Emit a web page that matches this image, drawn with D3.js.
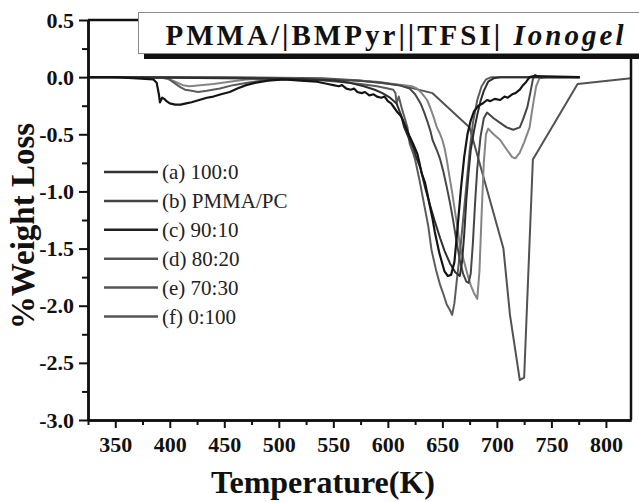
<!DOCTYPE html>
<html>
<head>
<meta charset="utf-8">
<script src="https://cdn.jsdelivr.net/npm/d3@7"></script>
<style>
  html, body { margin: 0; padding: 0; background: #fff; }
  svg { display: block; }
</style>
</head>
<body>
<svg id="chart" width="639" height="502"></svg>
<script>
// DTG curves of PMMA/[BMPyr][TFSI] ionogels: [temperature (K), % weight loss]
const seriesNames = ["(a) 100:0", "(b) PMMA/PC", "(c) 90:10", "(d) 80:20", "(e) 70:30", "(f) 0:100"];

const curveA = [[325,0],[360,0],[400,-0.005],[450,-0.01],[500,-0.015],[530,-0.02],[550,-0.03],[565,-0.05],[578,-0.08],[588,-0.11],[595,-0.14],[602,-0.18],[608,-0.23],[612,-0.33],[615,-0.44],[619,-0.53],[623,-0.61],[626,-0.70],[630,-0.80],[634,-0.96],[639,-1.13],[643,-1.26],[648,-1.41],[652,-1.52],[657,-1.63],[662,-1.71],[666,-1.74],[668,-1.62],[670,-1.38],[672,-1.07],[674,-0.84],[676,-0.64],[679,-0.47],[682,-0.33],[685,-0.21],[688,-0.12],[692,-0.04],[697,-0.01],[703,0],[740,0],[776,0]];

const curveB = [[325,0],[400,0],[450,-0.005],[500,-0.01],[540,-0.02],[570,-0.03],[595,-0.05],[610,-0.07],[620,-0.10],[625,-0.15],[630,-0.23],[633,-0.30],[636,-0.38],[639,-0.47],[641,-0.55],[645,-0.64],[648,-0.72],[651,-0.83],[654,-0.96],[657,-1.10],[660,-1.26],[663,-1.44],[666,-1.60],[669,-1.72],[672,-1.79],[674,-1.80],[676,-1.72],[678,-1.45],[680,-1.10],[682,-0.80],[685,-0.52],[688,-0.36],[691,-0.31],[697,-0.36],[703,-0.40],[709,-0.44],[715,-0.46],[721,-0.44],[724,-0.37],[728,-0.26],[731,-0.12],[733,-0.02],[735,0.02],[738,0.0],[776,0.0]];

const curveC = [[325,0],[350,0],[370,-0.01],[385,-0.02],[388,-0.05],[390,-0.15],[391,-0.22],[393,-0.18],[395,-0.19],[397,-0.21],[400,-0.23],[405,-0.24],[410,-0.24],[415,-0.23],[420,-0.22],[427,-0.20],[434,-0.18],[440,-0.17],[447,-0.15],[455,-0.13],[462,-0.10],[470,-0.07],[478,-0.05],[490,-0.03],[505,-0.02],[520,-0.03],[535,-0.04],[545,-0.06],[550,-0.07],[555,-0.08],[558,-0.07],[562,-0.10],[566,-0.11],[569,-0.10],[572,-0.13],[576,-0.14],[579,-0.13],[583,-0.16],[587,-0.15],[590,-0.17],[594,-0.18],[597,-0.17],[600,-0.21],[603,-0.23],[606,-0.27],[609,-0.31],[612,-0.34],[614,-0.38],[617,-0.45],[620,-0.52],[623,-0.58],[627,-0.67],[629,-0.75],[631,-0.84],[634,-0.92],[636,-1.01],[639,-1.15],[641,-1.24],[643,-1.35],[645,-1.44],[647,-1.53],[649,-1.60],[652,-1.70],[655,-1.74],[658,-1.73],[661,-1.62],[663,-1.42],[665,-1.20],[667,-0.98],[670,-0.70],[673,-0.50],[676,-0.38],[679,-0.30],[683,-0.25],[687,-0.23],[691,-0.20],[694,-0.21],[698,-0.19],[703,-0.20],[707,-0.17],[710,-0.18],[714,-0.15],[717,-0.14],[721,-0.11],[724,-0.07],[727,-0.04],[730,0.0],[734,0.01],[776,0.0]];

const curveD = [[325,0],[380,0],[398,-0.01],[404,-0.05],[410,-0.09],[414,-0.11],[420,-0.12],[426,-0.13],[434,-0.12],[446,-0.10],[458,-0.07],[471,-0.05],[485,-0.03],[500,-0.02],[530,-0.02],[555,-0.04],[575,-0.06],[590,-0.08],[600,-0.10],[605,-0.11],[607,-0.14],[608,-0.23],[610,-0.17],[613,-0.28],[618,-0.44],[620,-0.58],[623,-0.66],[625,-0.72],[629,-0.90],[633,-1.10],[637,-1.30],[640,-1.51],[644,-1.68],[648,-1.82],[651,-1.90],[654,-1.99],[657,-2.04],[659,-2.08],[661,-1.98],[663,-1.80],[666,-1.55],[669,-1.25],[672,-0.95],[675,-0.65],[678,-0.40],[682,-0.20],[686,-0.08],[690,-0.02],[695,0],[776,0]];

const curveE = [[325,0],[390,0],[400,-0.02],[405,-0.04],[412,-0.07],[418,-0.08],[428,-0.07],[440,-0.06],[455,-0.04],[470,-0.02],[500,-0.01],[540,-0.02],[570,-0.03],[590,-0.04],[605,-0.06],[615,-0.07],[622,-0.08],[627,-0.10],[631,-0.14],[636,-0.20],[639,-0.27],[642,-0.35],[645,-0.44],[648,-0.50],[650,-0.55],[652,-0.62],[654,-0.72],[656,-0.84],[659,-1.01],[662,-1.20],[664,-1.32],[666,-1.47],[669,-1.58],[672,-1.69],[674,-1.76],[676,-1.82],[679,-1.89],[682,-1.94],[684,-1.70],[686,-1.20],[688,-0.75],[690,-0.50],[692,-0.45],[697,-0.50],[703,-0.55],[708,-0.62],[714,-0.70],[717,-0.71],[721,-0.66],[725,-0.57],[730,-0.44],[733,-0.25],[736,-0.08],[739,-0.01],[745,0],[776,0]];

const curveF = [[325,0],[450,0],[540,-0.01],[575,-0.03],[611,-0.07],[641,-0.14],[675,-0.44],[706,-1.50],[712,-2.08],[721,-2.65],[725,-2.63],[733,-0.72],[774,-0.06],[823,-0.01]];

const xTicks = [350, 400, 450, 500, 550, 600, 650, 700, 750, 800];
const xMinorTicks = [325, 375, 425, 475, 525, 575, 625, 675, 725, 775];
const yTicks = [0.5, 0.0, -0.5, -1.0, -1.5, -2.0, -2.5, -3.0];
const yMinorTicks = [0.25, -0.25, -0.75, -1.25, -1.75, -2.25, -2.75];

const titleMain = "PMMA/|BMPyr||TFSI| ";
const titleItalic = "Ionogel";
const xLabel = "Temperature(K)";
const yLabel = "%Weight Loss";

// ---- drawing ----
const curves = [curveA, curveB, curveC, curveD, curveE, curveF];
const lineColors = ["#2e2e2e", "#464646", "#141414", "#5c5c5c", "#858585", "#525252"];
const legendColors = ["#333", "#444", "#222", "#555", "#555", "#555"];
const drawOrder = [5, 4, 3, 1, 0, 2];

const serif = "'Liberation Serif', 'Times New Roman', serif";
const svg = d3.select("#chart");
const plot = { left: 88, right: 631, top: 20, bottom: 420 };

const x = d3.scaleLinear().domain([325, 823]).range([plot.left, plot.right]);
const y = d3.scaleLinear().domain([-3.0, 0.5]).range([plot.bottom, plot.top]);

svg.append("defs").append("clipPath").attr("id", "plotclip")
  .append("rect").attr("x", plot.left).attr("y", plot.top)
  .attr("width", plot.right - plot.left).attr("height", plot.bottom - plot.top);

const line = d3.line().x(d => x(d[0])).y(d => y(d[1])).curve(d3.curveLinear);

const gCurves = svg.append("g").attr("clip-path", "url(#plotclip)");
drawOrder.forEach(i => {
  gCurves.append("path")
    .datum(curves[i])
    .attr("d", line)
    .attr("fill", "none")
    .attr("stroke", lineColors[i])
    .attr("stroke-width", i === 2 ? 2.2 : 2)
    .attr("stroke-linejoin", "round");
});

// frame (top and right edges)
svg.append("line").attr("x1", plot.left).attr("x2", plot.right)
  .attr("y1", plot.top).attr("y2", plot.top)
  .attr("stroke", "#111").attr("stroke-width", 2.5);
svg.append("line").attr("x1", plot.right).attr("x2", plot.right)
  .attr("y1", plot.top).attr("y2", plot.bottom)
  .attr("stroke", "#111").attr("stroke-width", 2.5);

// axes
const fmt = d => d.toFixed(1);
const yAxis = svg.append("g").attr("transform", `translate(${plot.left},0)`)
  .call(d3.axisLeft(y).tickValues(yTicks).tickFormat(fmt).tickSize(9).tickSizeOuter(0).tickPadding(5));
const yMinor = svg.append("g").attr("transform", `translate(${plot.left},0)`)
  .call(d3.axisLeft(y).tickValues(yMinorTicks).tickFormat("").tickSize(6).tickSizeOuter(0));
const xAxis = svg.append("g").attr("transform", `translate(0,${plot.bottom})`)
  .call(d3.axisBottom(x).tickValues(xTicks).tickFormat(d3.format("d")).tickSize(8).tickSizeOuter(0).tickPadding(8));
const xMinor = svg.append("g").attr("transform", `translate(0,${plot.bottom})`)
  .call(d3.axisBottom(x).tickValues(xMinorTicks).tickFormat("").tickSize(5).tickSizeOuter(0));

[yAxis, yMinor, xAxis, xMinor].forEach(g => {
  g.attr("font-family", null);
  g.select(".domain").attr("stroke", "#111").attr("stroke-width", 2.5);
  g.selectAll(".tick line").attr("stroke", "#111").attr("stroke-width", 2);
  g.selectAll(".tick text")
    .attr("fill", "#111")
    .style("font-family", serif)
    .style("font-weight", "bold")
    .style("font-size", "22px");
});

// legend
const legend = svg.append("g");
seriesNames.forEach((name, i) => {
  const cy = 172 + i * 28.9;
  legend.append("line")
    .attr("x1", 104).attr("x2", 158).attr("y1", cy).attr("y2", cy)
    .attr("stroke", legendColors[i]).attr("stroke-width", 2.5);
  legend.append("text")
    .attr("x", 162).attr("y", cy + 7)
    .attr("fill", "#222")
    .style("font-family", serif)
    .style("font-size", "21px")
    .text(name);
});

// title box with shadow bar
svg.append("rect").attr("x", 144).attr("y", 53).attr("width", 500).attr("height", 6).attr("fill", "#111");
svg.append("rect").attr("x", 138.5).attr("y", 12.5).attr("width", 505).attr("height", 41)
  .attr("fill", "#fff").attr("stroke", "#8a8a8a").attr("stroke-width", 1);
const title = svg.append("text")
  .attr("x", 396).attr("y", 45)
  .attr("text-anchor", "middle")
  .attr("fill", "#111")
  .style("font-family", serif)
  .style("font-weight", "bold")
  .style("font-size", "29px");
title.append("tspan").text(titleMain);
title.append("tspan").style("font-style", "italic").text(titleItalic);
(function fit(el, target) {
  const n = el.text().length;
  const w = el.node().getComputedTextLength();
  el.style("letter-spacing", ((target - w) / (n - 1)) + "px");
})(title, 458);

// axis titles
svg.append("text")
  .attr("x", 323).attr("y", 493)
  .attr("text-anchor", "middle")
  .attr("fill", "#111")
  .style("font-family", serif).style("font-weight", "bold").style("font-size", "32px")
  .text(xLabel);
svg.append("text")
  .attr("transform", "translate(34,226) rotate(-90)")
  .attr("text-anchor", "middle")
  .attr("fill", "#111")
  .style("font-family", serif).style("font-weight", "bold").style("font-size", "33px")
  .text(yLabel);
</script>
</body>
</html>
